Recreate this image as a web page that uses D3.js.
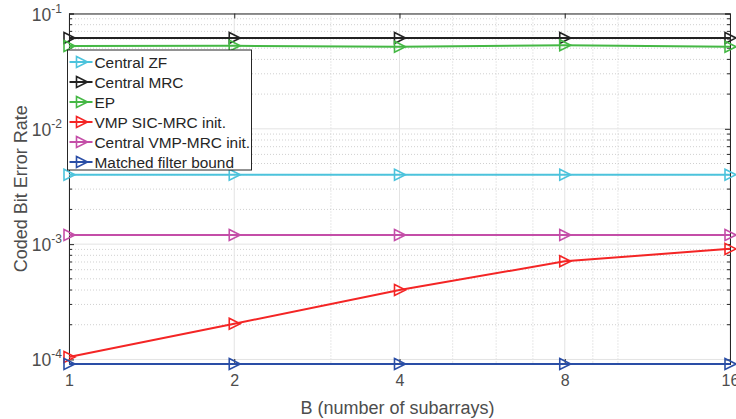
<!DOCTYPE html>
<html>
<head>
<meta charset="utf-8">
<script src="https://cdn.jsdelivr.net/npm/d3@7"></script>
<style>
  body { margin: 0; background: #fff; }
  svg { font-family: "Liberation Sans", Arial, sans-serif; }
</style>
</head>
<body>
<div class="canvas"></div>
<script>
// data
const subarrays = [1, 2, 4, 8, 16];
const centralZF = [0.004, 0.004, 0.004, 0.004, 0.004];
const centralMRC = [0.0614, 0.0614, 0.0614, 0.0614, 0.0614];
const ep = [0.0522, 0.0525, 0.0515, 0.053, 0.0515];
const vmpSic = [0.000105, 0.000204, 0.0004, 0.00071, 0.00091];
const centralVmp = [0.0012, 0.0012, 0.0012, 0.0012, 0.0012];
const mfBound = [0.0000913, 0.0000913, 0.0000913, 0.0000913, 0.0000913];

const seriesNames = ["Central ZF", "Central MRC", "EP", "VMP SIC-MRC init.", "Central VMP-MRC init.", "Matched filter bound"];
const seriesColors = ["#4cc3dc", "#222222", "#45b845", "#f42525", "#c44ea8", "#2a4ea6"];
const seriesValues = [centralZF, centralMRC, ep, vmpSic, centralVmp, mfBound];

const xTicks = [1, 2, 4, 8, 16];
const yTicks = [1e-4, 1e-3, 1e-2, 1e-1];

const dims = { width: 736, height: 419 };
const margin = { top: 13.5, right: 6, bottom: 55, left: 69 };
const innerW = dims.width - margin.left - margin.right;
const innerH = dims.height - margin.top - margin.bottom;

const svg = d3
  .select(".canvas")
  .append("svg")
  .attr("width", dims.width)
  .attr("height", dims.height);

const x = d3.scaleLog().base(2).domain([1, 16]).range([0, innerW]);
const y = d3.scaleLog().domain([0.0000913, 0.1]).range([innerH, 0]);

const g = svg.append("g").attr("transform", `translate(${margin.left}, ${margin.top})`);

// minor grid
const xMinor = [3, 5, 6, 7, 9, 10];
const yMinor = [];
[1e-5, 1e-4, 1e-3, 1e-2].forEach((d) => {
  for (let k = 2; k <= 9; k++) {
    const v = d * k;
    if (v > y.domain()[0] && v < 0.1) yMinor.push(v);
  }
});

g.selectAll(".xminor")
  .data(xMinor)
  .enter()
  .append("line")
  .attr("x1", (d) => x(d)).attr("x2", (d) => x(d))
  .attr("y1", 0).attr("y2", innerH)
  .attr("stroke", "#d0d0d0")
  .attr("stroke-dasharray", "1,2");

g.selectAll(".yminor")
  .data(yMinor)
  .enter()
  .append("line")
  .attr("x1", 0).attr("x2", innerW)
  .attr("y1", (d) => y(d)).attr("y2", (d) => y(d))
  .attr("stroke", "#d0d0d0")
  .attr("stroke-dasharray", "1,2");

// major grid
g.selectAll(".xgrid")
  .data(xTicks)
  .enter()
  .append("line")
  .attr("x1", (d) => x(d)).attr("x2", (d) => x(d))
  .attr("y1", 0).attr("y2", innerH)
  .attr("stroke", "#e3e3e3");

g.selectAll(".ygrid")
  .data(yTicks)
  .enter()
  .append("line")
  .attr("x1", 0).attr("x2", innerW)
  .attr("y1", (d) => y(d)).attr("y2", (d) => y(d))
  .attr("stroke", "#e3e3e3");

// axes with inside ticks
const axisColor = "#262626";
const addAxis = (axis, tr) => {
  const a = g.append("g").attr("transform", tr).call(axis);
  a.select(".domain").attr("stroke", axisColor);
  a.selectAll(".tick line").attr("stroke", axisColor);
  return a;
};

addAxis(d3.axisBottom(x).tickValues(xTicks).tickSize(-5).tickFormat(d3.format("d")), `translate(0, ${innerH})`)
  .selectAll("text")
  .attr("fill", "#4d4d4d")
  .attr("font-size", 16)
  .attr("font-family", "Liberation Sans, Arial, sans-serif")
  .attr("y", 11)
  .attr("dy", "0.71em");
addAxis(d3.axisTop(x).tickValues(xTicks).tickSize(-5).tickFormat(""), "translate(0, 0)");

addAxis(d3.axisLeft(y).tickValues(yTicks).tickSize(-5).tickFormat(""), "translate(0, 0)");
addAxis(d3.axisRight(y).tickValues(yTicks).tickSize(-5).tickFormat(""), `translate(${innerW}, 0)`);

// minor y ticks
[[0, 3], [innerW, -3]].forEach(([x0, len]) => {
  g.selectAll(null)
    .data(yMinor)
    .enter()
    .append("line")
    .attr("x1", x0).attr("x2", x0 + len)
    .attr("y1", (d) => y(d)).attr("y2", (d) => y(d))
    .attr("stroke", axisColor);
});

// y tick labels as 10^k
yTicks.forEach((d) => {
  const t = g.append("text")
    .attr("x", -7)
    .attr("y", y(d) + 7)
    .attr("text-anchor", "end")
    .attr("fill", "#4d4d4d")
    .attr("font-size", 17.5);
  t.append("tspan").text("10");
  t.append("tspan").attr("dy", -8).attr("font-size", 12).text(Math.round(Math.log10(d)));
});

// series
const line = d3.line().x((d) => x(d[0])).y((d) => y(d[1]));
const tri = "M-5,-5.5L6,0L-5,5.5Z";

seriesValues.forEach((vals, i) => {
  const pts = subarrays.map((b, j) => [b, vals[j]]);
  g.append("path")
    .datum(pts)
    .attr("d", line)
    .attr("fill", "none")
    .attr("stroke", seriesColors[i])
    .attr("stroke-width", 2);
  g.selectAll(null)
    .data(pts)
    .enter()
    .append("path")
    .attr("d", tri)
    .attr("transform", (d) => `translate(${x(d[0])}, ${y(d[1])})`)
    .attr("fill", "none")
    .attr("stroke", seriesColors[i])
    .attr("stroke-width", 1.6);
});

// legend
const legend = g.append("g").attr("transform", "translate(-1.5, 36.5)");
legend.append("rect")
  .attr("width", 184)
  .attr("height", 120)
  .attr("fill", "#fff")
  .attr("stroke", axisColor)
  .attr("stroke-width", 1);

seriesNames.forEach((name, i) => {
  const row = legend.append("g").attr("transform", `translate(0, ${12 + i * 20})`);
  row.append("line")
    .attr("x1", 2).attr("x2", 25)
    .attr("stroke", seriesColors[i])
    .attr("stroke-width", 2);
  row.append("path")
    .attr("d", tri)
    .attr("transform", "translate(14, 0)")
    .attr("fill", "none")
    .attr("stroke", seriesColors[i])
    .attr("stroke-width", 1.6);
  row.append("text")
    .attr("x", 27)
    .attr("y", 5.5)
    .attr("font-size", 15.4)
    .attr("fill", "#262626")
    .text(name);
});

// axis labels
svg.append("text")
  .attr("x", margin.left + innerW / 2 - 2)
  .attr("y", 414)
  .attr("text-anchor", "middle")
  .attr("font-size", 18)
  .attr("fill", "#4d4d4d")
  .text("B (number of subarrays)");

svg.append("text")
  .attr("transform", `translate(27, ${margin.top + innerH / 2}) rotate(-90)`)
  .attr("text-anchor", "middle")
  .attr("font-size", 18)
  .attr("fill", "#4d4d4d")
  .text("Coded Bit Error Rate");
</script>
</body>
</html>
